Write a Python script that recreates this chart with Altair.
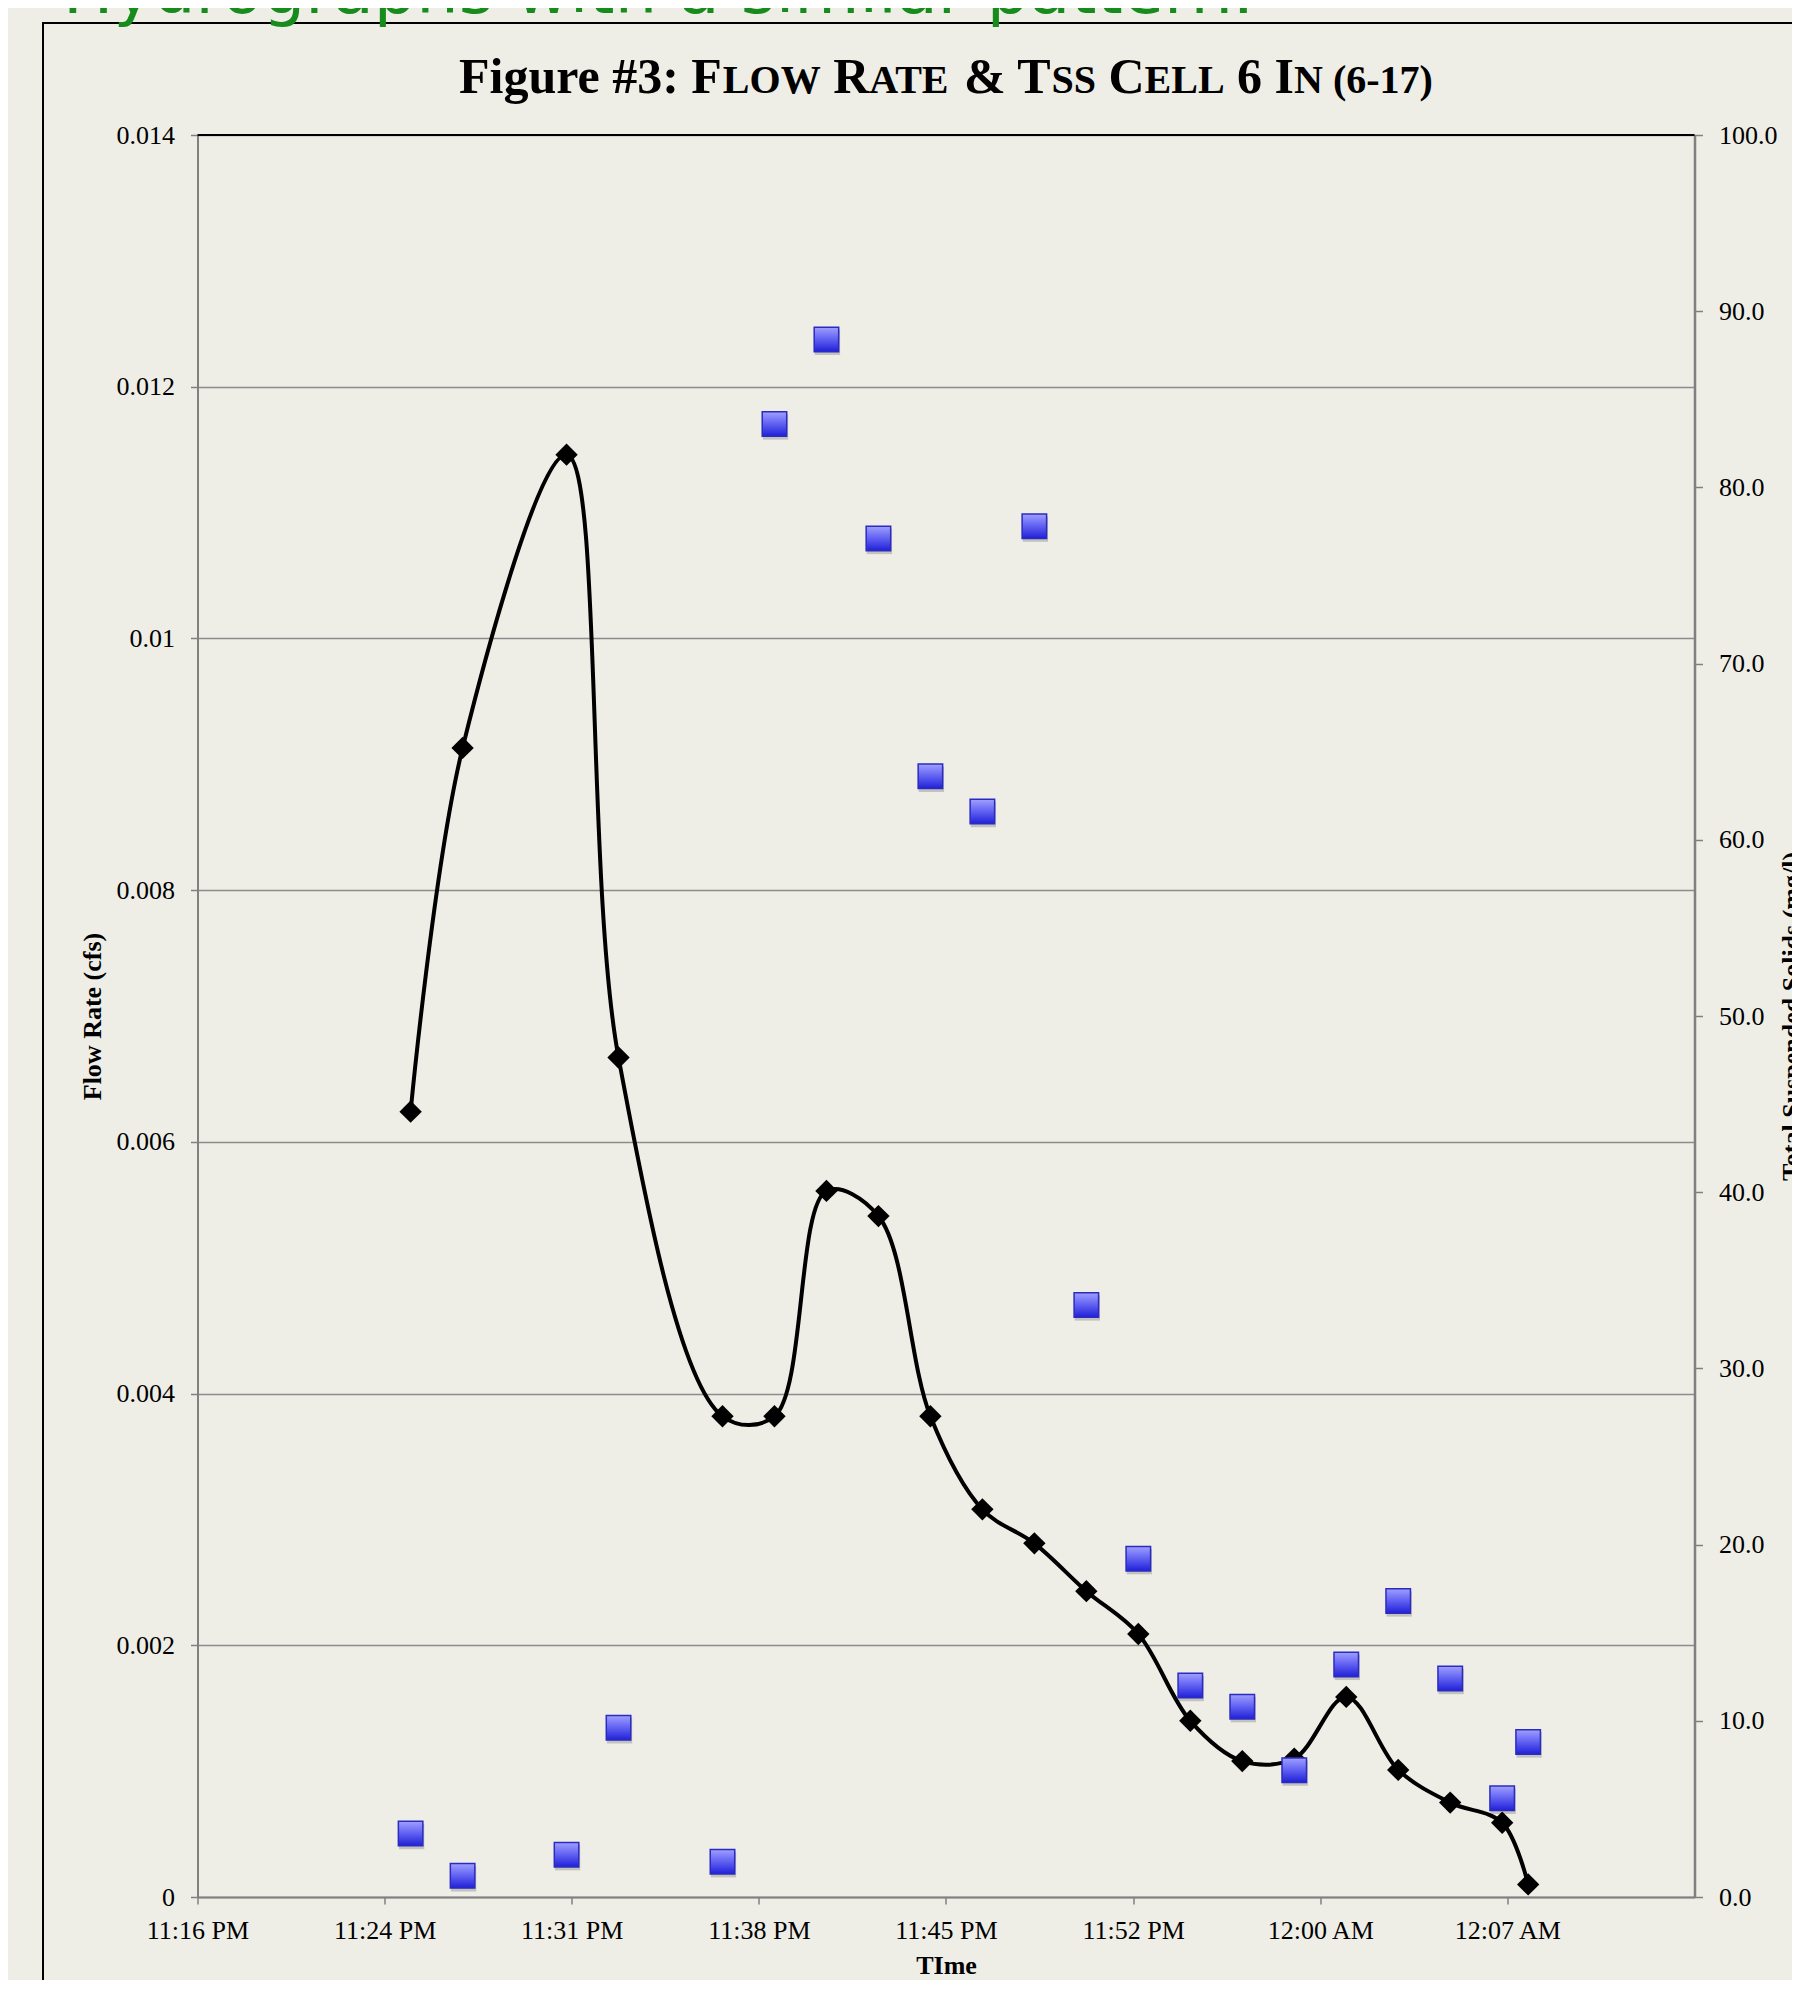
import altair as alt
import pandas as pd

# ---------------- data ----------------
times = ["11:25 PM", "11:27 PM", "11:31 PM", "11:33 PM", "11:37 PM", "11:39 PM",
         "11:41 PM", "11:43 PM", "11:45 PM", "11:47 PM", "11:49 PM", "11:51 PM",
         "11:53 PM", "11:55 PM", "11:57 PM", "11:59 PM", "12:01 AM", "12:03 AM",
         "12:05 AM", "12:07 AM", "12:08 AM"]
flow_cfs = [0.00624, 0.00913, 0.01146, 0.00667, 0.00382, 0.00382,
            0.00561, 0.00541, 0.00382, 0.00308, 0.00281, 0.00243,
            0.00209, 0.00140, 0.00108, 0.00110, 0.00159, 0.00101,
            0.00075, 0.00059, 0.00010]
tss_mgl = [3.6, 1.2, 2.4, 9.6, 2.0, 83.6,
           88.4, 77.1, 63.6, 61.6, 77.8, 33.6,
           19.2, 12.0, 10.8, 7.2, 13.2, 16.8,
           12.4, 5.6, 8.8]

x_domain = [1396.8, 1454.4]          # 11:16:48 PM .. 12:14:24 AM (minutes)
x_tick_values = [1396.8, 1404.0, 1411.2, 1418.4, 1425.6, 1432.8, 1440.0, 1447.2]
x_tick_labels = ["11:16 PM", "11:24 PM", "11:31 PM", "11:38 PM",
                 "11:45 PM", "11:52 PM", "12:00 AM", "12:07 AM"]
flow_ticks = [0, 0.002, 0.004, 0.006, 0.008, 0.010, 0.012, 0.014]
tss_ticks = [0, 10, 20, 30, 40, 50, 60, 70, 80, 90, 100]

heading = "Hydrographs with a similar pattern."
title_parts = [("Figure #3: F", False), ("LOW", True), (" R", False), ("ATE", True),
               (" & T", False), ("SS", True), (" C", False), ("ELL", True),
               (" 6 I", False), ("N", True), (" (6-17)", True)]


def to_minutes(s):
    hm, ap = s.split()
    h, m = (int(v) for v in hm.split(":"))
    if ap == "PM" and h != 12:
        h += 12
    if ap == "AM" and h == 12:
        h = 24  # continues past midnight
    return h * 60 + m


df = pd.DataFrame({"time": times, "t": [to_minutes(s) for s in times],
                   "flow": flow_cfs, "tss": tss_mgl})

# ---------------- geometry ----------------
W, H = 1497, 1762
SERIF = "Liberation Serif"
AX_GRAY = "#808080"

x_label_expr = ("[" + ",".join(f"'{l}'" for l in x_tick_labels) + "][indexof(["
                + ",".join(str(round(v * 10)) for v in x_tick_values)
                + "], round(datum.value*10))]")

x_enc = alt.X("t:Q",
              scale=alt.Scale(domain=x_domain, nice=False, zero=False),
              axis=alt.Axis(values=x_tick_values, labelExpr=x_label_expr,
                            title="TIme", titleFont=SERIF, titleFontSize=26,
                            titleFontWeight="bold", titleColor="black",
                            titleY=76, titleBaseline="alphabetic",
                            tickSize=7, labelPadding=13, labelFont=SERIF,
                            labelFontSize=26, labelColor="black",
                            labelFlush=False, labelOverlap=False,
                            domainColor=AX_GRAY, domainWidth=2,
                            tickColor=AX_GRAY, tickWidth=1.5, grid=False))

flow_y = alt.Y("flow:Q",
               scale=alt.Scale(domain=[0, 0.014], nice=False),
               axis=alt.Axis(values=flow_ticks, format="~g",
                             title="Flow Rate (cfs)", titleFont=SERIF,
                             titleFontSize=26, titleFontWeight="bold",
                             titleColor="black", titleAngle=270,
                             titleX=-97, titleY=H / 2, titleBaseline="alphabetic",
                             grid=True, gridColor="#8c8c8c", gridWidth=1.5,
                             tickSize=7, labelPadding=16, labelFont=SERIF,
                             labelFontSize=26, labelColor="black",
                             domainColor=AX_GRAY, domainWidth=2,
                             tickColor=AX_GRAY, tickWidth=1.5))

tss_y = alt.Y("tss:Q",
              scale=alt.Scale(domain=[0, 100], nice=False),
              axis=alt.Axis(orient="right", values=tss_ticks, format=".1f",
                            title="Total Suspended Solids (mg/l)", titleFont=SERIF,
                            titleFontSize=26, titleFontWeight="bold",
                            titleColor="black", titleAngle=270,
                            titleX=105, titleY=H / 2, titleBaseline="alphabetic",
                            grid=False, tickSize=8, labelPadding=16,
                            labelFont=SERIF, labelFontSize=26, labelColor="black",
                            domainColor=AX_GRAY, domainWidth=2.5,
                            tickColor=AX_GRAY, tickWidth=1.5))

base = alt.Chart(df)

flow_line = base.mark_line(interpolate="catmull-rom", color="black",
                           strokeWidth=4).encode(x=x_enc, y=flow_y)
flow_pts = base.mark_point(shape="diamond", filled=True, size=500, color="black",
                           opacity=1).encode(x="t:Q", y="flow:Q")
flow_layer = alt.layer(flow_line, flow_pts)

sq_grad = alt.Gradient(gradient="linear",
                       stops=[alt.GradientStop(color="#a0a0ff", offset=0),
                              alt.GradientStop(color="#6666f4", offset=0.45),
                              alt.GradientStop(color="#2020d8", offset=1)],
                       x1=0, x2=0, y1=0, y2=1)
tss_shadow = base.mark_point(shape="square", filled=True, size=640, color="#000000",
                             opacity=0.18, yOffset=3, xOffset=1).encode(x="t:Q", y=tss_y)
tss_pts = base.mark_point(shape="square", filled=True, size=600, fill=sq_grad,
                          stroke="#2b2bc0", strokeWidth=1.5, opacity=1
                          ).encode(x="t:Q", y="tss:Q")
tss_layer = alt.layer(tss_shadow, tss_pts)

one = pd.DataFrame({"k": [0]})
deco = alt.Chart(one)

# plot-area top border and slide frame
top_border = deco.mark_rule(color="black", strokeWidth=2).encode(
    x=alt.value(0), x2=alt.value(W), y=alt.value(0))
frame_left = deco.mark_rule(color="black", strokeWidth=2).encode(
    x=alt.value(-154.5), y=alt.value(-112), y2=alt.value(1900))
frame_top = deco.mark_rule(color="black", strokeWidth=2).encode(
    x=alt.value(-155.5), x2=alt.value(1700), y=alt.value(-112))

# slide heading (cut off at the top)
heading_txt = deco.mark_text(align="left", baseline="alphabetic", font="DejaVu Sans",
                             fontSize=67, color="#178c1c").encode(
    x=alt.value(-134.5), y=alt.value(-122), text=alt.value(heading))

# chart title with small caps, assembled from parts
TB = {" ": 250, "#": 500, "(": 333, ")": 333, "-": 333, ":": 333, "&": 833,
      "0": 500, "1": 500, "3": 500, "6": 500, "7": 500,
      "A": 722, "C": 722, "E": 667, "F": 611, "I": 389, "L": 667, "N": 722,
      "O": 778, "R": 722, "S": 556, "T": 667, "W": 1000,
      "e": 444, "g": 500, "i": 278, "r": 444, "u": 556}
BIG, SMALL = 50, 40
cur = 261.5
title_layers = []
for txt, small in title_parts:
    fs = SMALL if small else BIG
    lead = len(txt) - len(txt.lstrip(" "))
    px = cur + lead * TB[" "] / 1000 * fs
    title_layers.append(
        deco.mark_text(align="left", baseline="alphabetic", font=SERIF,
                       fontWeight="bold", fontSize=fs, color="black").encode(
            x=alt.value(px), y=alt.value(-42), text=alt.value(txt.strip())))
    cur += sum(TB[c] for c in txt) / 1000 * fs

chart = alt.layer(
    flow_layer, tss_layer, top_border, frame_left, frame_top, heading_txt, *title_layers
).resolve_scale(y="independent").properties(
    width=W, height=H,
    autosize=alt.AutoSizeParams(type="none"),
    padding={"left": 189.5, "top": 127, "right": 97.5, "bottom": 83},
).configure(background="#eeeee7").configure_view(stroke=None)

chart.save("out.html", embed_options={"renderer": "svg", "actions": False})
